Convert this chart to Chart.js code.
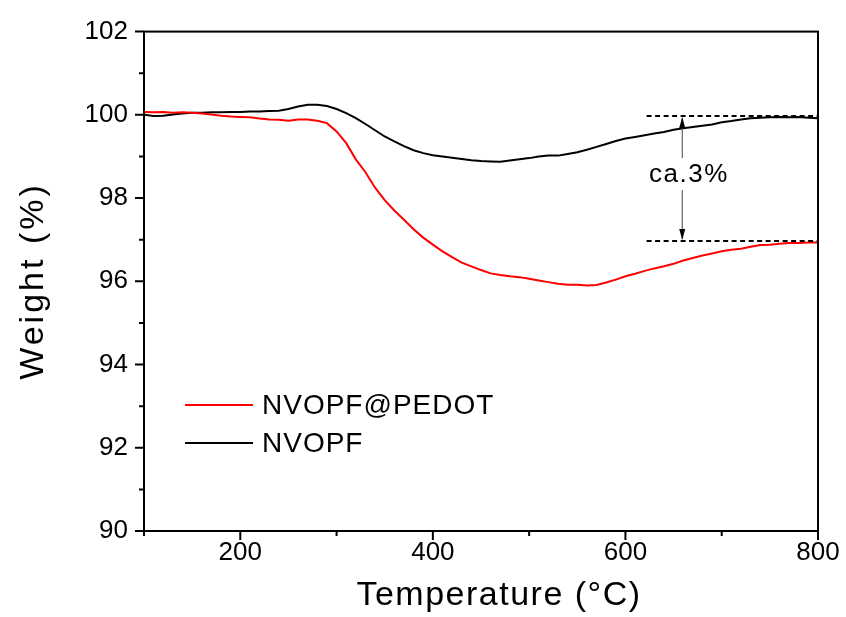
<!DOCTYPE html>
<html>
<head>
<meta charset="utf-8">
<script src="https://cdn.jsdelivr.net/npm/chart.js@4.4.0/dist/chart.umd.min.js"></script>
<style>
  body { margin: 0; background: #fff; }
  #wrap { width: 846px; height: 617px; }
</style>
</head>
<body>
<div id="wrap"><canvas id="tga" width="846" height="617"></canvas></div>
<script>
// temperatuur (°C) en gewicht (%)
const temperature = [100, 110, 120, 130, 140, 150, 160, 170, 180, 190,
  200, 210, 220, 230, 240, 250, 260, 270, 280, 290,
  300, 310, 320, 330, 340, 350, 360, 370, 380, 390,
  400, 410, 420, 430, 440, 450, 460, 470, 480, 490,
  500, 510, 520, 530, 540, 550, 560, 570, 580, 590,
  600, 610, 620, 630, 640, 650, 660, 670, 680, 690,
  700, 710, 720, 730, 740, 750, 760, 770, 780, 790, 800];

const weightPedot = [100.07, 100.06, 100.07, 100.05, 100.06, 100.05, 100.03, 100.01, 99.98, 99.96,
  99.95, 99.94, 99.91, 99.89, 99.88, 99.86, 99.89, 99.89, 99.86, 99.80,
  99.60, 99.32, 98.93, 98.62, 98.25, 97.95, 97.70, 97.48, 97.25, 97.05,
  96.88, 96.72, 96.58, 96.45, 96.36, 96.27, 96.19, 96.15, 96.12, 96.10,
  96.06, 96.02, 95.98, 95.94, 95.92, 95.92, 95.90, 95.91, 95.97, 96.04,
  96.12, 96.18, 96.25, 96.31, 96.36, 96.42, 96.50, 96.56, 96.62, 96.67,
  96.72, 96.76, 96.78, 96.83, 96.87, 96.88, 96.90, 96.92, 96.92, 96.93, 96.93];

const weightNvopf = [100.00, 99.97, 99.98, 100.01, 100.03, 100.05, 100.05, 100.06, 100.06, 100.07,
  100.07, 100.08, 100.08, 100.09, 100.10, 100.14, 100.20, 100.24, 100.24, 100.21,
  100.14, 100.04, 99.92, 99.78, 99.63, 99.48, 99.36, 99.25, 99.15, 99.08,
  99.03, 99.00, 98.97, 98.94, 98.91, 98.89, 98.88, 98.87, 98.90, 98.93,
  98.96, 99.00, 99.02, 99.02, 99.06, 99.10, 99.16, 99.23, 99.30, 99.37,
  99.43, 99.47, 99.51, 99.55, 99.59, 99.64, 99.68, 99.71, 99.74, 99.77,
  99.82, 99.85, 99.89, 99.92, 99.93, 99.94, 99.95, 99.94, 99.95, 99.93, 99.92];

const seriesNames = ['NVOPF@PEDOT', 'NVOPF'];
const seriesColors = ['#ff0000', '#000000'];

// stippellijnen met pijl voor het verschil
const gapLevels = [99.97, 96.97];
const gapRange = [622, 800];
const gapArrowAt = 659;
const gapLabel = 'ca.3%';

const xTitle = 'Temperature (°C)';
const yTitle = 'Weight (%)';

const FONT = "'Liberation Sans', Arial, sans-serif";

function toPoints(ys) {
  return temperature.map((t, i) => ({ x: t, y: ys[i] }));
}

// tekent kader, tickstreepjes, legenda, titels en annotatie
const decor = {
  id: 'decor',
  afterDraw(chart) {
    const { ctx, chartArea: a, scales: { x, y } } = chart;
    ctx.save();

    // kader
    ctx.strokeStyle = '#000';
    ctx.lineWidth = 2;
    ctx.strokeRect(a.left, a.top, a.right - a.left, a.bottom - a.top);

    // tickstreepjes naar buiten
    ctx.beginPath();
    x.ticks.forEach(t => {
      const px = x.getPixelForValue(t.value);
      const len = t.value % 200 === 0 ? 9 : 5;
      ctx.moveTo(px, a.bottom);
      ctx.lineTo(px, a.bottom + len);
    });
    y.ticks.forEach(t => {
      const py = y.getPixelForValue(t.value);
      const len = t.value % 2 === 0 ? 9 : 5;
      ctx.moveTo(a.left, py);
      ctx.lineTo(a.left - len, py);
    });
    ctx.stroke();

    // legenda
    ctx.font = '28px ' + FONT;
    ctx.textBaseline = 'middle';
    ctx.textAlign = 'left';
    ctx.letterSpacing = '1px';
    chart.data.datasets.forEach((ds, i) => {
      const ly = 405 + i * 38;
      ctx.strokeStyle = ds.borderColor;
      ctx.lineWidth = 2;
      ctx.beginPath();
      ctx.moveTo(185, ly);
      ctx.lineTo(253, ly);
      ctx.stroke();
      ctx.fillStyle = '#000';
      ctx.fillText(ds.label, 262, ly + 1);
    });

    // stippellijnen
    const x0 = x.getPixelForValue(gapRange[0]);
    const x1 = x.getPixelForValue(gapRange[1]);
    const yTop = y.getPixelForValue(gapLevels[0]);
    const yLow = y.getPixelForValue(gapLevels[1]);
    ctx.strokeStyle = '#000';
    ctx.lineWidth = 2;
    ctx.setLineDash([5, 3.5]);
    ctx.beginPath();
    ctx.moveTo(x0, yTop); ctx.lineTo(x1, yTop);
    ctx.moveTo(x0, yLow); ctx.lineTo(x1, yLow);
    ctx.stroke();
    ctx.setLineDash([]);

    // pijl
    const ax = x.getPixelForValue(gapArrowAt);
    ctx.strokeStyle = '#444';
    ctx.lineWidth = 1;
    ctx.beginPath();
    ctx.moveTo(ax, yTop + 2); ctx.lineTo(ax, yLow - 2);
    ctx.stroke();
    ctx.fillStyle = '#000';
    ctx.beginPath();
    ctx.moveTo(ax, yTop + 1); ctx.lineTo(ax - 3, yTop + 12); ctx.lineTo(ax + 3, yTop + 12);
    ctx.closePath(); ctx.fill();
    ctx.beginPath();
    ctx.moveTo(ax, yLow - 1); ctx.lineTo(ax - 3, yLow - 12); ctx.lineTo(ax + 3, yLow - 12);
    ctx.closePath(); ctx.fill();

    // label met witte achtergrond
    ctx.font = '26px ' + FONT;
    ctx.letterSpacing = '1.5px';
    ctx.textBaseline = 'alphabetic';
    const w = ctx.measureText(gapLabel).width;
    ctx.fillStyle = '#fff';
    ctx.fillRect(648, 158, w + 2, 32);
    ctx.fillStyle = '#000';
    ctx.fillText(gapLabel, 649, 182);

    // astitels
    ctx.font = '34px ' + FONT;
    ctx.letterSpacing = '1.5px';
    ctx.textAlign = 'center';
    ctx.fillText(xTitle, 499, 605);
    ctx.translate(43, 281);
    ctx.rotate(-Math.PI / 2);
    ctx.letterSpacing = '3px';
    ctx.fillText(yTitle, 0, 0);

    ctx.restore();
  }
};

const ctx = document.getElementById('tga').getContext('2d');
new Chart(ctx, {
  type: 'line',
  data: {
    datasets: [
      { label: seriesNames[0], data: toPoints(weightPedot), borderColor: seriesColors[0] },
      { label: seriesNames[1], data: toPoints(weightNvopf), borderColor: seriesColors[1] }
    ]
  },
  options: {
    responsive: false,
    animation: false,
    parsing: false,
    layout: { padding: { top: 28, right: 28, left: 0, bottom: 0 } },
    elements: {
      line: { borderWidth: 2, tension: 0 },
      point: { radius: 0 }
    },
    plugins: { legend: { display: false }, tooltip: { enabled: false } },
    scales: {
      x: {
        type: 'linear',
        min: 100,
        max: 800,
        afterFit: s => { s.height = 86; },
        grid: { display: false, drawTicks: false },
        border: { display: false },
        ticks: {
          stepSize: 100,
          padding: 6,
          color: '#000',
          font: { family: FONT, size: 26 },
          maxRotation: 0,
          autoSkip: false,
          callback: v => (v % 200 === 0 ? v : '')
        }
      },
      y: {
        min: 90,
        max: 102,
        afterFit: s => { s.width = 144; },
        grid: { display: false, drawTicks: false },
        border: { display: false },
        ticks: {
          stepSize: 1,
          padding: 16,
          color: '#000',
          font: { family: FONT, size: 26 },
          autoSkip: false,
          callback: v => (v % 2 === 0 ? v : '')
        }
      }
    }
  },
  plugins: [decor]
});
</script>
</body>
</html>
